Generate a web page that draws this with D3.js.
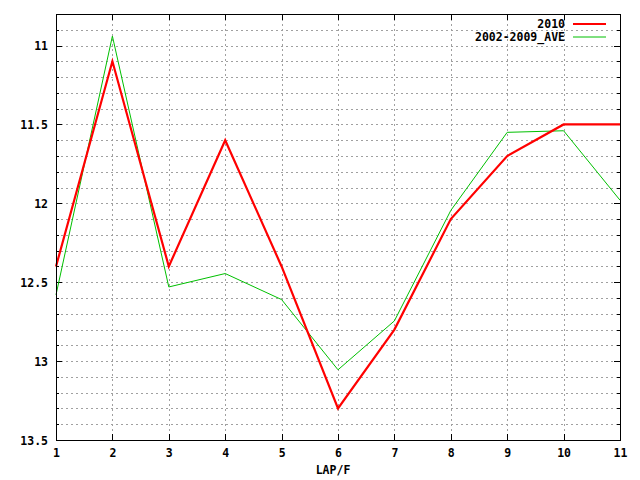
<!DOCTYPE html>
<html><head><meta charset="utf-8">
<script src="https://d3js.org/d3.v7.min.js"></script>
<style>body{margin:0;background:#fff}svg{display:block}text{font-family:"DejaVu Sans Mono",monospace;font-weight:bold;font-size:11.5px;fill:#000}</style>
</head><body>
<script>
const laps = [1,2,3,4,5,6,7,8,9,10,11];
const series2010 = [12.4,11.1,12.4,11.6,12.4,13.3,12.8,12.1,11.7,11.5,11.5];
const seriesAve = [12.58,10.94,12.53,12.445,12.61,13.055,12.745,12.045,11.55,11.54,11.98];
const yTicks = [11,11.5,12,12.5,13,13.5];
const seriesNames = ["2010","2002-2009_AVE"];
const xLabel = "LAP/F";

const W=640,H=480, L=56, R=620, T=14, B=440;
const svg=d3.select("body").append("svg").attr("width",W).attr("height",H);
const x=d3.scaleLinear().domain([1,11]).range([L,R]);
const y=d3.scaleLinear().domain([10.8,13.5]).range([T,B]);

const minor=d3.range(109,135).map(v=>v/10);
// grid
const g=svg.append("g").attr("stroke","#a0a0a0").attr("stroke-width",1).attr("stroke-dasharray","2,3").attr("shape-rendering","crispEdges");
minor.filter(v=>v<13.5).forEach(v=>g.append("line").attr("x1",L).attr("x2",R).attr("y1",Math.round(y(v))+0.5).attr("y2",Math.round(y(v))+0.5));
laps.slice(1,-1).forEach(v=>g.append("line").attr("y1",T).attr("y2",B).attr("x1",Math.round(x(v))+0.5).attr("x2",Math.round(x(v))+0.5));

// ticks
const t=svg.append("g").attr("stroke","#000").attr("shape-rendering","crispEdges");
minor.forEach(v=>{
  const major=yTicks.some(m=>Math.abs(m-v)<1e-9);
  const len=major?6:3, yy=Math.round(y(v))+0.5;
  t.append("line").attr("x1",L).attr("x2",L+len).attr("y1",yy).attr("y2",yy);
  t.append("line").attr("x1",R-len).attr("x2",R).attr("y1",yy).attr("y2",yy);
});
laps.forEach(v=>{
  const xx=Math.round(x(v))+0.5;
  t.append("line").attr("x1",xx).attr("x2",xx).attr("y1",T).attr("y2",T+6);
  t.append("line").attr("x1",xx).attr("x2",xx).attr("y1",B-6).attr("y2",B);
});

// axes labels via d3 axis
const ya=svg.append("g").attr("transform",`translate(${L-8},0)`).call(d3.axisLeft(y).tickValues(yTicks).tickSize(0).tickFormat(d3.format("")));
ya.select(".domain").remove();
ya.selectAll("text").attr("dy","0.35em").attr("x",0).style("font-family",'"DejaVu Sans Mono",monospace').style("font-size","11.5px").style("font-weight","bold");
const xa=svg.append("g").attr("transform",`translate(0,${B+9})`).call(d3.axisBottom(x).tickValues(laps).tickSize(0).tickFormat(d3.format("d")));
xa.select(".domain").remove();
xa.selectAll("text").attr("dy","0.71em").attr("y",0).style("font-family",'"DejaVu Sans Mono",monospace').style("font-size","11.5px").style("font-weight","bold");

svg.append("text").attr("x",333).attr("y",474).attr("text-anchor","middle").text(xLabel);

// lines
const line=d3.line().x((d,i)=>x(laps[i])).y(d=>y(d));
svg.append("path").datum(seriesAve).attr("d",line).attr("fill","none").attr("stroke","#00c000").attr("stroke-width",1);
svg.append("path").datum(series2010).attr("d",line).attr("fill","none").attr("stroke","#ff0000").attr("stroke-width",2.2);

// border
svg.append("rect").attr("x",L+0.5).attr("y",T+0.5).attr("width",R-L).attr("height",B-T).attr("fill","none").attr("stroke","#000").attr("shape-rendering","crispEdges");

// legend
const cols=["#ff0000","#00c000"], widths=[2.2,1];
seriesNames.forEach((n,i)=>{
  const yy=24+i*13;
  svg.append("text").attr("x",565).attr("y",yy).attr("dy","0.35em").attr("text-anchor","end").text(n);
  svg.append("line").attr("x1",573).attr("x2",606).attr("y1",yy).attr("y2",yy).attr("stroke",cols[i]).attr("stroke-width",widths[i]);
});
</script>
</body></html>
